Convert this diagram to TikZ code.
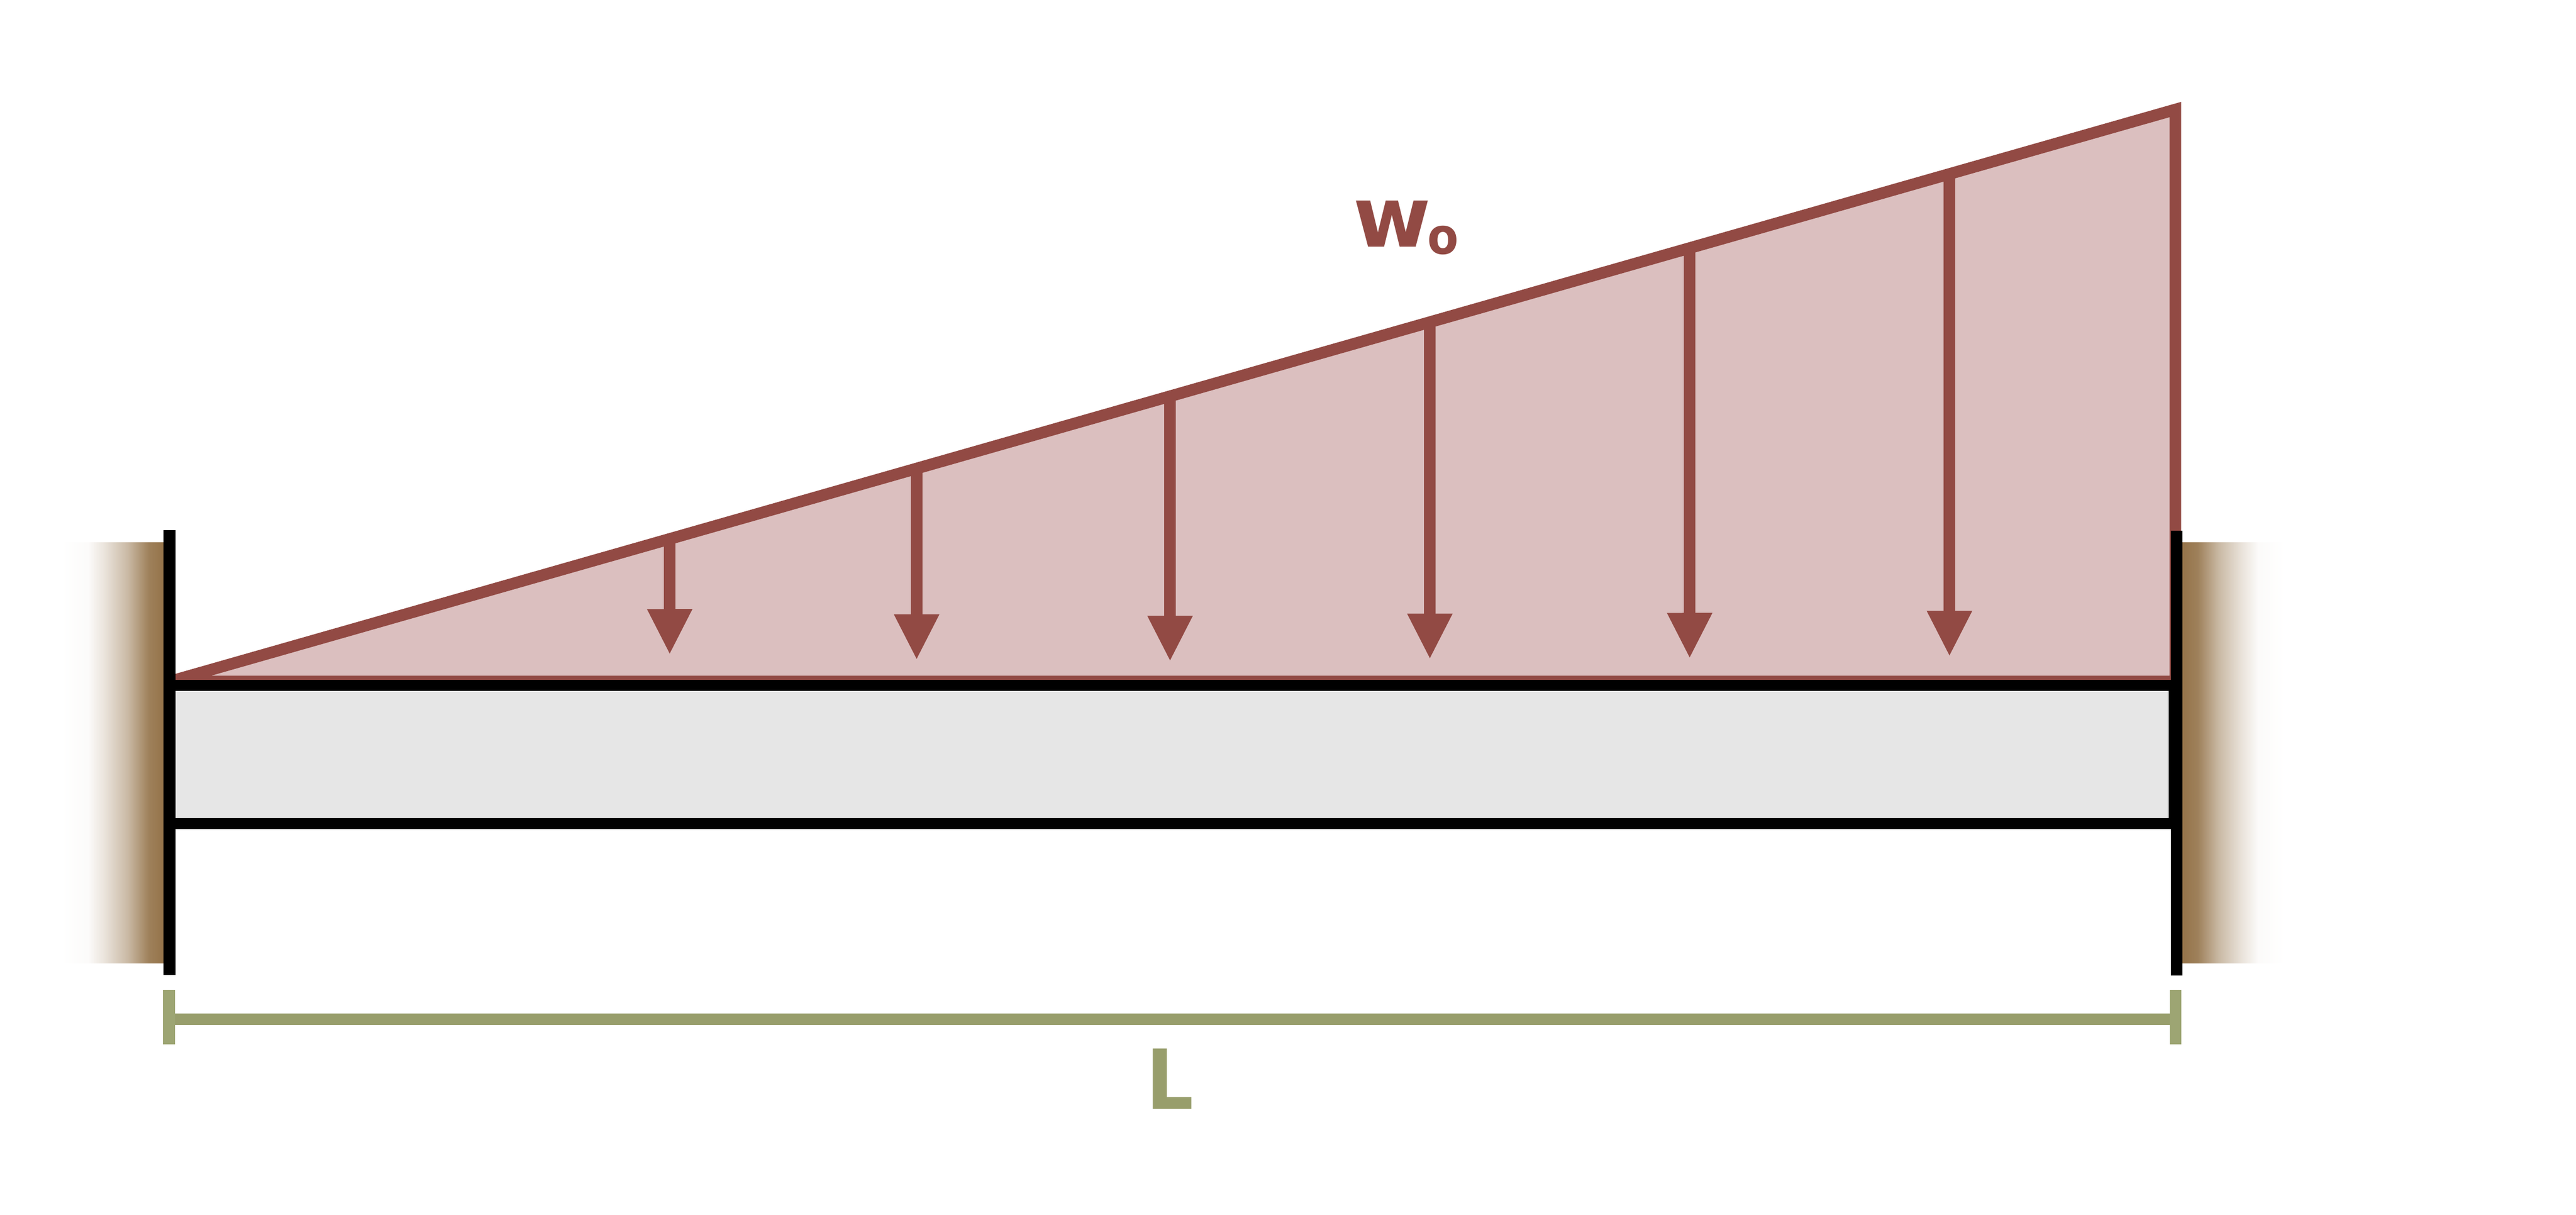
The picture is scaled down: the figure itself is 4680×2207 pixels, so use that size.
\documentclass[tikz,border=0pt]{standalone}
\usepackage{fontspec}
\newfontfamily\labelfont{DejaVu Sans Condensed Bold}
\newfontfamily\widelabelfont{DejaVu Sans Bold}
\usetikzlibrary{arrows.meta,calc}
\definecolor{loadred}{RGB}{146,74,68}
\definecolor{loadpink}{RGB}{219,191,191}
\definecolor{beamgray}{RGB}{230,230,230}
\definecolor{wallbrown}{RGB}{148,115,73}
\definecolor{dimgreen}{RGB}{152,158,108}
\definecolor{tickgreen}{RGB}{157,165,115}
\pgfdeclarehorizontalshading{wallfadeL}{100bp}{color(0bp)=(white); color(25bp)=(white); color(38bp)=(wallbrown!3!white); color(46bp)=(wallbrown!20!white); color(57.3bp)=(wallbrown!50!white); color(67.4bp)=(wallbrown!90!white); color(75bp)=(wallbrown); color(100bp)=(wallbrown)}
\pgfdeclarehorizontalshading{wallfadeR}{100bp}{color(0bp)=(wallbrown); color(25bp)=(wallbrown); color(32.6bp)=(wallbrown!90!white); color(42.7bp)=(wallbrown!50!white); color(54bp)=(wallbrown!20!white); color(62bp)=(wallbrown!3!white); color(75bp)=(white); color(100bp)=(white)}
\tikzset{
  loadline/.style={draw=loadred, line width=0.21cm, line join=miter},
  loadarrow/.style={draw=loadred, line width=0.21cm, -{Triangle[length=0.83cm,width=0.76cm,fill=loadred]}},
  wallbar/.style={draw=black, line width=0.21cm},
  dimtick/.style={draw=tickgreen, line width=0.21cm},
  dimline/.style={draw=dimgreen, line width=0.21cm},
  loadlabel/.style={inner sep=0, outer sep=0, anchor=base west, text=loadred, font=\widelabelfont\fontsize{43.5}{50}\selectfont},
  dimlabel/.style={inner sep=0, outer sep=0, anchor=base west, text=dimgreen, font=\labelfont\fontsize{42.7}{50}\selectfont}
}
\begin{document}
\begin{tikzpicture}[x=0.01cm,y=-0.01cm]
  \useasboundingbox (0,0) rectangle (4680,2207);

  % walls
  \shade [shading=wallfadeL] (112,986) rectangle (298,1749);
  \shade [shading=wallfadeR] (3965,986) rectangle (4151,1749);

  % load
  \coordinate (apex) at (308,1238);
  \coordinate (peak) at (3952,199);
  \coordinate (corner) at (3952,1238);
  \fill [loadpink] (apex)--(peak)--(corner)--cycle;
  \draw [loadline] (apex)--(peak)--(corner)--(apex);

  \foreach \i/\ax/\ty in {1/1216.7/1189.3, 2/1665.3/1199, 3/2125.7/1201.7, 4/2597.7/1197.7, 5/3069.7/1196.3, 6/3541.7/1192.7}{
    \coordinate (top\i) at ($(apex)!{(\ax-308)/3644}!(peak)$);
    \coordinate (tip\i) at (\ax,\ty);
    \draw [loadarrow] (top\i)--(tip\i);
  }

  % beam
  \draw [draw=black, line width=0.205cm, fill=beamgray] (308,1245) rectangle (3950,1496);

  % supports
  \coordinate (barLa) at (308,962.6);
  \coordinate (barLb) at (308,1770.6);
  \coordinate (barRa) at (3954.5,964);
  \coordinate (barRb) at (3954.5,1772);
  \draw [wallbar] (barLa)--(barLb);
  \draw [wallbar] (barRa)--(barRb);

  % span
  \coordinate (dimL) at (307,1851.8);
  \coordinate (dimR) at (3952.3,1851.8);
  \draw [dimline] (dimL)--(dimR);
  \draw [dimtick] (307,1798)--(dimL)--(307,1897);
  \draw [dimtick] (3952.3,1798)--(dimR)--(3952.3,1897);

  \node [loadlabel] (wlabel) at (2458,449) {w\kern-0.035em\raisebox{-0.085em}{\labelfont\fontsize{26}{30}\selectfont o}};
  \node [dimlabel] (Llabel) at (2082,2014) {L};
\end{tikzpicture}
\end{document}
